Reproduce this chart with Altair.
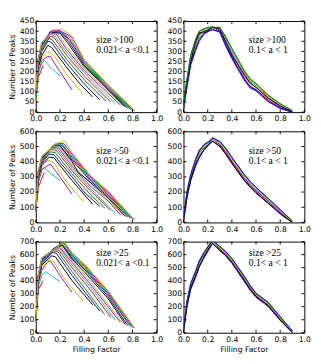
import altair as alt
import pandas as pd

COLORS = ["#0000ff", "#008000", "#ff0000", "#00bfbf", "#bf00bf", "#bfbf00", "#000000"]
X_TICKS = [0.0, 0.2, 0.4, 0.6, 0.8, 1.0]

# ---- left column: 0.021 < a < 0.1 (lines #2..#19 of the colour cycle) ----
TL_LINES = [
    [(0, 60), (0.02, 170), (0.06, 230)],
    [(0, 70), (0.02, 190), (0.05, 240), (0.07, 255), (0.13, 215), (0.2, 180)],
    [(0, 60), (0.02, 200), (0.05, 255), (0.1, 275), (0.12, 275), (0.2, 200), (0.3, 110)],
    [(0, 50), (0.02, 210), (0.05, 270), (0.1, 300), (0.15, 280), (0.25, 190), (0.39, 90)],
    [(0, 60), (0.02, 220), (0.05, 280), (0.1, 330), (0.13, 320), (0.25, 225), (0.35, 150), (0.47, 75)],
    [(0, 70), (0.02, 230), (0.05, 300), (0.1, 350), (0.13, 345), (0.25, 245), (0.4, 140), (0.53, 60)],
    [(0, 80), (0.02, 235), (0.05, 310), (0.11, 365), (0.14, 355), (0.25, 265), (0.4, 160), (0.58, 55)],
    [(0, 90), (0.02, 240), (0.05, 315), (0.12, 375), (0.15, 370), (0.25, 285), (0.4, 180), (0.5, 120), (0.62, 50)],
    [(0, 70), (0.02, 240), (0.05, 315), (0.12, 385), (0.16, 375), (0.25, 300), (0.4, 195), (0.55, 105), (0.66, 40)],
    [(0, 80), (0.02, 245), (0.05, 320), (0.12, 390), (0.17, 385), (0.25, 315), (0.4, 205), (0.55, 120), (0.7, 35)],
    [(0, 60), (0.02, 245), (0.05, 320), (0.12, 395), (0.18, 390), (0.25, 330), (0.4, 215), (0.55, 130), (0.72, 30)],
    [(0, 90), (0.02, 250), (0.05, 330), (0.12, 395), (0.2, 390), (0.26, 345), (0.4, 225), (0.55, 140), (0.74, 25)],
    [(0, 80), (0.02, 255), (0.05, 330), (0.12, 398), (0.2, 395), (0.27, 350), (0.4, 232), (0.6, 110), (0.76, 20)],
    [(0, 70), (0.02, 255), (0.05, 335), (0.13, 400), (0.2, 398), (0.28, 355), (0.4, 240), (0.6, 115), (0.78, 15)],
    [(0, 100), (0.02, 260), (0.05, 340), (0.13, 400), (0.2, 400), (0.28, 360), (0.4, 245), (0.6, 120), (0.79, 12)],
    [(0, 80), (0.02, 260), (0.05, 340), (0.14, 402), (0.2, 400), (0.29, 365), (0.4, 250), (0.6, 125), (0.8, 10)],
    [(0, 90), (0.02, 265), (0.05, 345), (0.14, 405), (0.21, 400), (0.3, 370), (0.4, 255), (0.6, 130), (0.81, 8)],
    [(0, 100), (0.02, 265), (0.05, 345), (0.15, 405), (0.22, 410), (0.3, 375), (0.4, 260), (0.6, 135), (0.82, 8)],
]

ML_LINES = [
    [(0, 80), (0.02, 230), (0.07, 330)],
    [(0, 70), (0.02, 260), (0.05, 340), (0.07, 360), (0.13, 320), (0.2, 275)],
    [(0, 60), (0.02, 270), (0.05, 350), (0.12, 385), (0.2, 300), (0.3, 185)],
    [(0, 70), (0.02, 280), (0.05, 370), (0.1, 410), (0.15, 395), (0.25, 270), (0.39, 140)],
    [(0, 80), (0.02, 290), (0.05, 380), (0.11, 430), (0.15, 425), (0.3, 275), (0.47, 120)],
    [(0, 70), (0.02, 300), (0.05, 390), (0.11, 450), (0.15, 445), (0.3, 300), (0.4, 200), (0.53, 105)],
    [(0, 90), (0.02, 305), (0.05, 400), (0.12, 465), (0.16, 460), (0.3, 320), (0.45, 185), (0.57, 95)],
    [(0, 80), (0.02, 310), (0.05, 405), (0.12, 480), (0.17, 475), (0.3, 340), (0.45, 210), (0.62, 80)],
    [(0, 70), (0.02, 315), (0.05, 410), (0.13, 490), (0.18, 485), (0.3, 355), (0.45, 225), (0.66, 60)],
    [(0, 80), (0.02, 320), (0.05, 415), (0.13, 495), (0.19, 490), (0.3, 370), (0.45, 240), (0.6, 140), (0.7, 50)],
    [(0, 90), (0.02, 320), (0.05, 420), (0.14, 500), (0.2, 495), (0.3, 385), (0.45, 255), (0.6, 150), (0.72, 45)],
    [(0, 70), (0.02, 325), (0.05, 420), (0.14, 505), (0.2, 505), (0.3, 400), (0.35, 330), (0.45, 265), (0.6, 160), (0.74, 40)],
    [(0, 80), (0.02, 325), (0.05, 425), (0.15, 508), (0.2, 505), (0.3, 410), (0.45, 275), (0.6, 170), (0.76, 35)],
    [(0, 90), (0.02, 330), (0.05, 425), (0.15, 510), (0.22, 505), (0.3, 420), (0.45, 285), (0.6, 180), (0.78, 30)],
    [(0, 100), (0.02, 330), (0.05, 430), (0.16, 515), (0.22, 510), (0.3, 430), (0.45, 295), (0.6, 190), (0.79, 25)],
    [(0, 70), (0.02, 335), (0.05, 430), (0.16, 515), (0.22, 515), (0.3, 440), (0.45, 300), (0.6, 195), (0.8, 22)],
    [(0, 80), (0.02, 335), (0.05, 435), (0.17, 520), (0.23, 520), (0.3, 450), (0.45, 305), (0.6, 200), (0.81, 20)],
    [(0, 90), (0.02, 340), (0.05, 435), (0.17, 520), (0.24, 535), (0.3, 460), (0.45, 310), (0.6, 205), (0.82, 15)],
]

BL_LINES = [
    [(0, 100), (0.02, 330), (0.06, 400)],
    [(0, 90), (0.02, 350), (0.05, 440), (0.08, 470), (0.14, 430), (0.2, 395)],
    [(0, 80), (0.02, 370), (0.05, 480), (0.1, 550), (0.13, 540), (0.2, 440), (0.3, 310)],
    [(0, 90), (0.02, 380), (0.05, 500), (0.11, 560), (0.15, 545), (0.25, 400), (0.39, 245)],
    [(0, 100), (0.02, 390), (0.05, 520), (0.13, 590), (0.16, 585), (0.3, 400), (0.47, 215)],
    [(0, 80), (0.02, 400), (0.05, 530), (0.14, 620), (0.17, 610), (0.3, 440), (0.53, 165)],
    [(0, 90), (0.02, 405), (0.05, 540), (0.14, 630), (0.18, 625), (0.3, 470), (0.57, 140)],
    [(0, 100), (0.02, 410), (0.05, 545), (0.15, 640), (0.19, 635), (0.3, 500), (0.45, 330), (0.62, 120)],
    [(0, 80), (0.02, 415), (0.05, 550), (0.15, 645), (0.2, 645), (0.3, 520), (0.45, 355), (0.66, 95)],
    [(0, 90), (0.02, 420), (0.05, 555), (0.15, 650), (0.2, 655), (0.3, 540), (0.45, 375), (0.7, 80)],
    [(0, 100), (0.02, 425), (0.05, 560), (0.16, 655), (0.21, 660), (0.3, 555), (0.45, 395), (0.72, 70)],
    [(0, 80), (0.02, 430), (0.05, 560), (0.16, 655), (0.22, 670), (0.3, 565), (0.4, 470), (0.6, 260), (0.74, 65)],
    [(0, 90), (0.02, 430), (0.05, 565), (0.17, 660), (0.22, 675), (0.3, 575), (0.4, 490), (0.6, 275), (0.76, 55)],
    [(0, 100), (0.02, 435), (0.05, 565), (0.17, 660), (0.22, 680), (0.3, 585), (0.4, 500), (0.6, 290), (0.78, 50)],
    [(0, 80), (0.02, 435), (0.05, 570), (0.18, 665), (0.23, 690), (0.3, 595), (0.4, 510), (0.6, 300), (0.79, 45)],
    [(0, 90), (0.02, 440), (0.05, 570), (0.18, 665), (0.23, 690), (0.3, 600), (0.35, 560), (0.4, 520), (0.6, 310), (0.8, 40)],
    [(0, 100), (0.02, 440), (0.05, 575), (0.19, 670), (0.23, 700), (0.3, 610), (0.35, 570), (0.4, 525), (0.6, 315), (0.81, 38)],
    [(0, 80), (0.02, 445), (0.05, 575), (0.2, 670), (0.23, 705), (0.3, 615), (0.36, 560), (0.4, 530), (0.6, 320), (0.82, 35)],
]

# ---- right column: 0.1 < a < 1 (shared x grid) ----
R_X = [0, 0.03, 0.06, 0.1, 0.13, 0.17, 0.21, 0.24, 0.3, 0.35, 0.4, 0.5, 0.55, 0.6, 0.7, 0.8, 0.9]

TR_Y = [
    [15, 130, 235, 305, 350, 385, 400, 410, 395, 325, 265, 160, 120, 105, 52, 18, 0],
    [40, 170, 285, 355, 400, 410, 418, 420, 418, 372, 312, 205, 160, 140, 82, 40, 8],
    [25, 140, 250, 320, 395, 392, 405, 422, 405, 335, 275, 170, 128, 112, 60, 22, 0],
    [30, 160, 275, 345, 365, 408, 416, 412, 420, 360, 300, 195, 152, 132, 75, 34, 4],
    [45, 150, 255, 330, 385, 395, 410, 418, 400, 345, 290, 182, 142, 124, 68, 28, 2],
    [22, 145, 268, 325, 372, 405, 418, 410, 416, 365, 308, 200, 158, 138, 80, 38, 6],
    [35, 155, 250, 350, 390, 398, 408, 420, 410, 350, 282, 188, 145, 122, 70, 30, 2],
    [20, 135, 240, 312, 360, 390, 402, 406, 398, 330, 270, 165, 125, 110, 55, 20, 0],
    [42, 165, 280, 360, 398, 412, 420, 418, 419, 370, 315, 208, 165, 142, 85, 42, 8],
]

MR_Y = [
    [10, 170, 275, 370, 425, 475, 512, 535, 500, 448, 388, 278, 232, 192, 125, 55, 0],
    [30, 210, 320, 420, 475, 515, 535, 555, 535, 490, 430, 320, 272, 232, 160, 85, 10],
    [20, 180, 290, 390, 480, 485, 520, 550, 515, 465, 400, 292, 245, 208, 140, 68, 3],
    [15, 200, 310, 410, 440, 505, 530, 545, 528, 478, 420, 308, 262, 222, 150, 76, 6],
    [35, 190, 295, 395, 460, 490, 515, 552, 512, 460, 405, 295, 250, 210, 140, 70, 2],
    [22, 185, 305, 405, 450, 500, 535, 548, 525, 475, 415, 305, 258, 218, 148, 75, 5],
    [12, 175, 285, 380, 432, 480, 515, 535, 505, 452, 392, 282, 238, 198, 130, 60, 0],
    [28, 205, 315, 415, 468, 510, 530, 558, 532, 486, 428, 318, 270, 230, 158, 84, 10],
]

BR_Y = [
    [10, 210, 335, 425, 505, 575, 640, 685, 630, 590, 535, 398, 328, 272, 202, 95, 0],
    [30, 250, 385, 475, 555, 620, 675, 710, 665, 625, 572, 440, 368, 305, 235, 125, 15],
    [20, 220, 350, 450, 550, 590, 650, 700, 645, 605, 548, 414, 344, 285, 215, 105, 6],
    [15, 240, 370, 460, 520, 612, 665, 698, 658, 616, 562, 428, 358, 296, 226, 116, 12],
    [35, 230, 355, 440, 540, 595, 655, 705, 642, 602, 545, 412, 342, 282, 212, 102, 4],
    [22, 225, 365, 465, 530, 605, 668, 695, 655, 615, 560, 425, 355, 295, 225, 115, 10],
    [12, 215, 345, 435, 510, 585, 645, 688, 635, 595, 540, 405, 335, 278, 208, 98, 2],
    [28, 245, 375, 470, 545, 615, 670, 710, 662, 622, 570, 435, 362, 302, 232, 122, 15],
]

# annotations: (x, y, text)
TL_TEXT = [(0.5, 355, "size >100"), (0.5, 308, "0.021< a <0.1")]
TR_TEXT = [(0.54, 355, "size >100"), (0.54, 308, "0.1< a < 1")]
ML_TEXT = [(0.5, 470, "size >50"), (0.5, 405, "0.021< a <0.1")]
MR_TEXT = [(0.54, 470, "size >50"), (0.54, 405, "0.1< a < 1")]
BL_TEXT = [(0.5, 610, "size >25"), (0.5, 535, "0.021< a <0.1")]
BR_TEXT = [(0.54, 610, "size >25"), (0.54, 535, "0.1< a < 1")]

W, H = 126, 95
TICK = 3


def left_df(lines, first=2):
    rows = []
    for k, pts in enumerate(lines):
        idx = first + k
        for x, y in pts:
            rows.append({"line": idx, "x": x, "y": y, "c": COLORS[idx % 7]})
    return pd.DataFrame(rows)


def right_df(ys_list):
    rows = []
    for idx, ys in enumerate(ys_list):
        for x, y in zip(R_X, ys):
            rows.append({"line": idx, "x": x, "y": y, "c": COLORS[idx % 7]})
    return pd.DataFrame(rows)


def panel(df, texts, ymax, ystep, ytitle, xtitle):
    xs = alt.Scale(domain=[0, 1], nice=False, zero=False)
    ys = alt.Scale(domain=[0, ymax], nice=False)
    yticks = list(range(0, ymax + 1, ystep))
    xaxis = alt.Axis(values=X_TICKS, format=".1f", ticks=False, domain=False, grid=False,
                     labelOverlap=False, labelFlush=False, labelPadding=3,
                     title=xtitle if xtitle else None, titlePadding=3)
    yaxis = alt.Axis(values=yticks, format="d", ticks=False, domain=False, grid=False,
                     labelOverlap=False, labelFlush=False, labelPadding=2,
                     title=ytitle if ytitle else None, titlePadding=3)
    lines = alt.Chart(df).mark_line(strokeWidth=1, clip=True).encode(
        x=alt.X("x:Q", scale=xs, axis=xaxis),
        y=alt.Y("y:Q", scale=ys, axis=yaxis),
        detail="line:N",
        color=alt.Color("c:N", scale=None),
    )
    tdf = pd.DataFrame(texts, columns=["x", "y", "t"])
    txt = alt.Chart(tdf).mark_text(align="left", baseline="middle", font="Liberation Serif",
                                   fontSize=10, color="black").encode(
        x=alt.X("x:Q", scale=xs, axis=xaxis), y=alt.Y("y:Q", scale=ys, axis=yaxis), text="t:N")
    xt = pd.DataFrame({"x": X_TICKS})
    yt = pd.DataFrame({"y": yticks})
    xb = alt.Chart(xt).mark_rule(color="black", strokeWidth=1).encode(
        x=alt.X("x:Q", scale=xs, axis=xaxis), y=alt.value(H), y2=alt.value(H - TICK))
    xtop = alt.Chart(xt).mark_rule(color="black", strokeWidth=1).encode(
        x=alt.X("x:Q", scale=xs, axis=xaxis), y=alt.value(0), y2=alt.value(TICK))
    yl = alt.Chart(yt).mark_rule(color="black", strokeWidth=1).encode(
        y=alt.Y("y:Q", scale=ys, axis=yaxis), x=alt.value(0), x2=alt.value(TICK))
    yr = alt.Chart(yt).mark_rule(color="black", strokeWidth=1).encode(
        y=alt.Y("y:Q", scale=ys, axis=yaxis), x=alt.value(W), x2=alt.value(W - TICK))
    return alt.layer(lines, txt, xb, xtop, yl, yr).properties(width=W, height=H)


p1 = panel(left_df(TL_LINES), TL_TEXT, 450, 50, "Number of Peaks", None)
p2 = panel(right_df(TR_Y), TR_TEXT, 450, 50, None, None)
p3 = panel(left_df(ML_LINES), ML_TEXT, 600, 100, "Number of Peaks", None)
p4 = panel(right_df(MR_Y), MR_TEXT, 600, 100, None, None)
p5 = panel(left_df(BL_LINES), BL_TEXT, 700, 100, "Number of Peaks", "Filling Factor")
p6 = panel(right_df(BR_Y), BR_TEXT, 700, 100, None, "Filling Factor")

chart = alt.concat(p1, p2, p3, p4, p5, p6, columns=2, spacing={"row": 20, "column": 28},
                   bounds="flush").properties(
    padding={"left": 0, "top": 1, "right": 2, "bottom": 2}
).configure_view(stroke="black", strokeWidth=1).configure_axis(
    labelFont="DejaVu Sans", labelFontSize=8, labelColor="black", labelOverlap=False,
    titleFont="DejaVu Sans", titleFontSize=8, titleFontWeight="normal", titleColor="black",
)

chart.save("out.html", embed_options={"renderer": "svg", "actions": False})
